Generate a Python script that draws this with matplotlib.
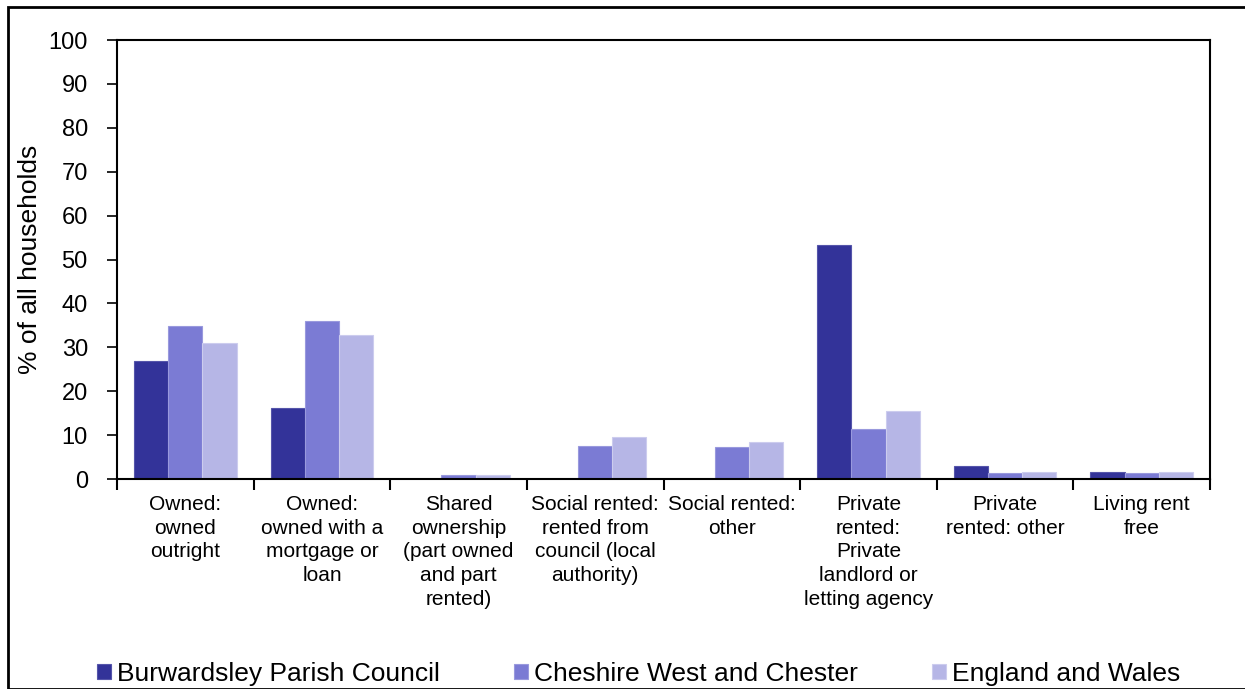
import numpy as np
import matplotlib.pyplot as plt
from matplotlib.patches import Rectangle

plt.rcParams['font.family'] = ['Liberation Sans', 'DejaVu Sans']

categories = ["Owned:\nowned\noutright", "Owned:\nowned with a\nmortgage or\nloan",
              "Shared\nownership\n(part owned\nand part\nrented)",
              "Social rented:\nrented from\ncouncil (local\nauthority)",
              "Social rented:\nother", "Private\nrented:\nPrivate\nlandlord or\nletting agency",
              "Private\nrented: other", "Living rent\nfree"]
burwardsley = [26.9, 16.1, 0.0, 0.0, 0.0, 53.3, 3.0, 1.5]
cheshire = [34.9, 36.1, 0.9, 7.5, 7.4, 11.5, 1.4, 1.4]
england = [30.9, 32.9, 0.8, 9.6, 8.4, 15.5, 1.5, 1.5]
series_names = ["Burwardsley Parish Council", "Cheshire West and Chester", "England and Wales"]
colors = ["#333399", "#7B7BD4", "#B6B6E6"]
edges = ["#5555AA", "#9999DD", "#CCCCEE"]

fig = plt.figure(figsize=(12.45, 6.89), dpi=100)
fig.patches.append(Rectangle((8/1245, 0), 1.2, (689-7)/689, transform=fig.transFigure,
                             fill=False, edgecolor='black', linewidth=2))
ax = fig.add_axes([117/1245, 1-479/689, (1210-117)/1245, (479-40)/689])

x = np.arange(len(categories))
w = 0.25
for i, vals in enumerate([burwardsley, cheshire, england]):
    ax.bar(x + (i - 1) * w, vals, width=w, color=colors[i], edgecolor=edges[i],
           linewidth=0.8, label=series_names[i])

ax.set_xlim(-0.5, len(categories) - 0.5)
ax.set_ylim(0, 100)
ax.set_yticks(range(0, 101, 10))
ax.tick_params(axis='y', labelsize=17, direction='out', length=7, width=1.2, pad=14)
ax.set_xticks(np.arange(len(categories) + 1) - 0.5)
ax.set_xticklabels([])
ax.tick_params(axis='x', direction='out', length=8, width=1.5)
for xi, lab in zip(x, categories):
    ax.text(xi, -3.6, lab, ha='center', va='top', fontsize=15, linespacing=1.32)
ax.set_ylabel("% of all households", fontsize=19)
ax.yaxis.set_label_coords(-0.0685, 0.5)
for s in ax.spines.values():
    s.set_linewidth(1.5)

fig.legend(*ax.get_legend_handles_labels(), loc='center left',
           bbox_to_anchor=(97/1245, 1-674/689), ncol=3, frameon=False,
           fontsize=19, handlelength=0.53, handleheight=0.53, handletextpad=0.23,
           columnspacing=2.8, borderpad=0, borderaxespad=0)

fig.savefig("out.png", dpi=100)
